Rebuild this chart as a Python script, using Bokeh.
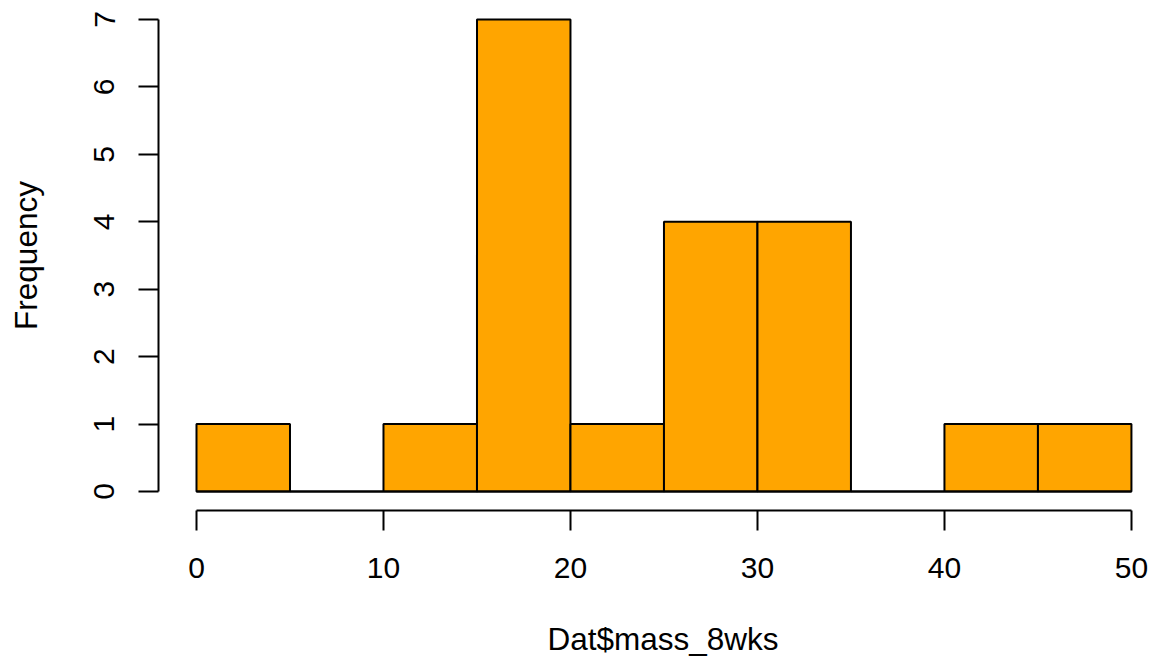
from bokeh.plotting import figure
from bokeh.models import FixedTicker, Range1d, Title
from bokeh.embed import file_html
from bokeh.resources import INLINE

# Histogram data (bin edges and counts)
bin_left = [0, 5, 10, 15, 20, 25, 30, 35, 40, 45]
bin_right = [5, 10, 15, 20, 25, 30, 35, 40, 45, 50]
counts = [1, 0, 1, 7, 1, 4, 4, 0, 1, 1]
x_ticks = [0, 10, 20, 30, 40, 50]
y_ticks = [0, 1, 2, 3, 4, 5, 6, 7]
x_title = "Dat$mass_8wks"
y_title = "Frequency"

FONT = "Liberation Sans"
FS = "30px"
FS_TITLE = "31.5px"

p = figure(width=1153, height=661, output_backend="svg", toolbar_location=None,
           frame_width=995, frame_height=510,
           min_border_left=158, min_border_right=0, min_border_top=0, min_border_bottom=151,
           x_range=Range1d(-2.032, 51.18), y_range=Range1d(-0.2818, 7.282))
p.outline_line_color = None
p.xgrid.visible = False
p.ygrid.visible = False
p.background_fill_color = "white"
p.border_fill_color = "white"

zeros = [0] * len(counts)
p.quad(left=bin_left, right=bin_right, bottom=zeros, top=counts,
       fill_color="#FFA500", line_color="black", line_width=2)
p.segment(x0=bin_left, x1=bin_right, y0=zeros, y1=zeros, line_color="black", line_width=2)

for ax, ticks in ((p.xaxis[0], x_ticks), (p.yaxis[0], y_ticks)):
    ax.ticker = FixedTicker(ticks=ticks)
    ax.bounds = (min(ticks), max(ticks))
    ax.minor_tick_line_color = None
    ax.major_tick_out = 20
    ax.major_tick_in = 0
    ax.axis_line_width = 2
    ax.major_tick_line_width = 2
    ax.axis_line_color = "black"
    ax.major_tick_line_color = "black"
    ax.major_label_text_font = FONT
    ax.major_label_text_font_size = FS
    ax.major_label_text_color = "black"
    ax.axis_label_text_font = FONT
    ax.axis_label_text_font_size = FS_TITLE
    ax.axis_label_text_font_style = "normal"
    ax.axis_label_text_color = "black"

p.yaxis.axis_label = y_title
p.xaxis.major_label_standoff = 27
p.yaxis.major_label_standoff = 24
p.yaxis.major_label_orientation = "vertical"
p.yaxis.axis_label_standoff = 48

# x-axis title as a "below" title, placed to match R's centring
p.add_layout(Title(text=x_title, align="left", offset=389, standoff=76,
                   text_font=FONT, text_font_size=FS_TITLE,
                   text_font_style="normal", text_color="black"), "below")

open("out.html", "w").write(file_html(p, INLINE))
